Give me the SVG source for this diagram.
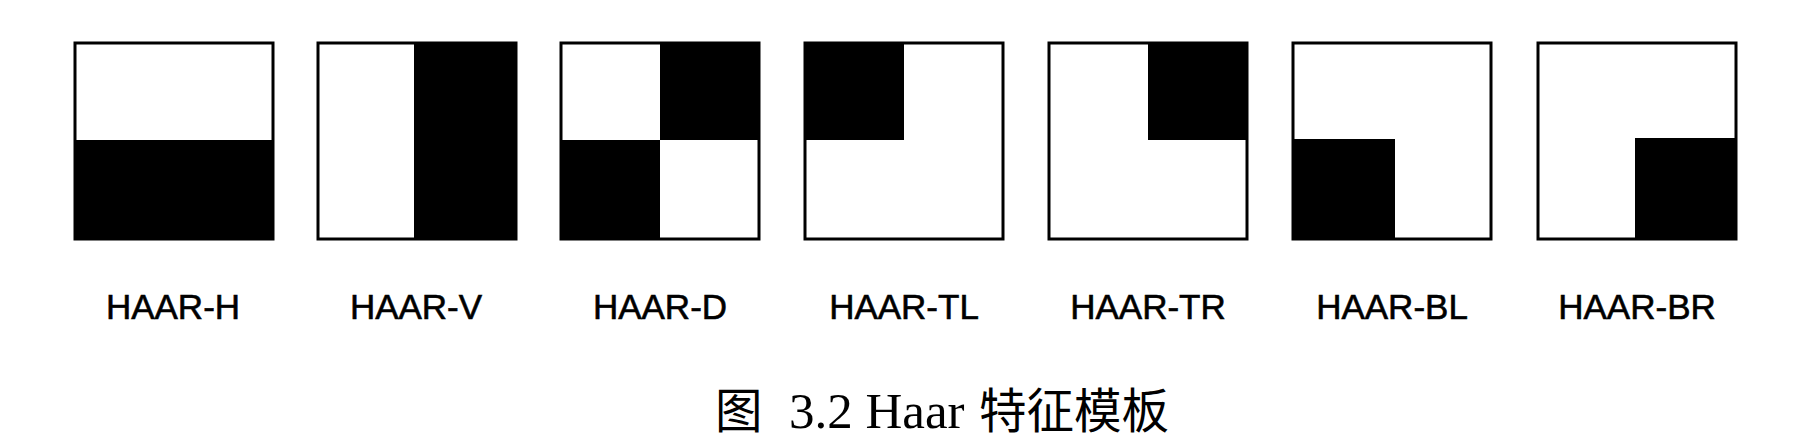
<svg xmlns="http://www.w3.org/2000/svg" width="1799" height="447" viewBox="0 0 1799 447">
<style>
.frame{fill:#fff;stroke:#000;stroke-width:3}
.blk{fill:#000}
.lbl{font-family:"Liberation Sans",Arial,sans-serif;font-size:35px;fill:#000;stroke:#000;stroke-width:0.6;text-anchor:middle}
.cap{font-family:"Liberation Serif","Noto Sans CJK SC",serif;font-size:51px;fill:#000}
.cjk{font-family:"Noto Sans CJK SC","Liberation Serif",sans-serif;font-size:47.5px;fill:#000}
</style>
<rect width="1799" height="447" fill="#fff"/>
<g id="connectors"/>
<g id="haar-h">
<rect class="frame" x="75" y="43" width="198" height="196"/>
<rect class="blk" x="75" y="140" width="198" height="100"/>
<text class="lbl" x="173" y="319">HAAR-H</text>
</g>
<g id="haar-v">
<rect class="frame" x="318" y="43" width="198" height="196"/>
<rect class="blk" x="414" y="42" width="103" height="198"/>
<text class="lbl" x="416" y="319">HAAR-V</text>
</g>
<g id="haar-d">
<rect class="frame" x="561" y="43" width="198" height="196"/>
<rect class="blk" x="660" y="42" width="100" height="98"/>
<rect class="blk" x="560" y="140" width="100" height="100"/>
<text class="lbl" x="660" y="319">HAAR-D</text>
</g>
<g id="haar-tl">
<rect class="frame" x="805" y="43" width="198" height="196"/>
<rect class="blk" x="804" y="42" width="100" height="98"/>
<text class="lbl" x="904" y="319">HAAR-TL</text>
</g>
<g id="haar-tr">
<rect class="frame" x="1049" y="43" width="198" height="196"/>
<rect class="blk" x="1148" y="42" width="100" height="98"/>
<text class="lbl" x="1148" y="319">HAAR-TR</text>
</g>
<g id="haar-bl">
<rect class="frame" x="1293" y="43" width="198" height="196"/>
<rect class="blk" x="1292" y="139" width="103" height="101"/>
<text class="lbl" x="1392" y="319">HAAR-BL</text>
</g>
<g id="haar-br">
<rect class="frame" x="1538" y="43" width="198" height="196"/>
<rect class="blk" x="1635" y="138" width="102" height="102"/>
<text class="lbl" x="1637" y="319">HAAR-BR</text>
</g>
<g id="caption">
<text class="cjk" x="715" y="428">图</text>
<text class="cap" x="789" y="428">3.2 Haar</text>
<text class="cjk" x="979" y="428">特征模板</text>
</g>
</svg>
